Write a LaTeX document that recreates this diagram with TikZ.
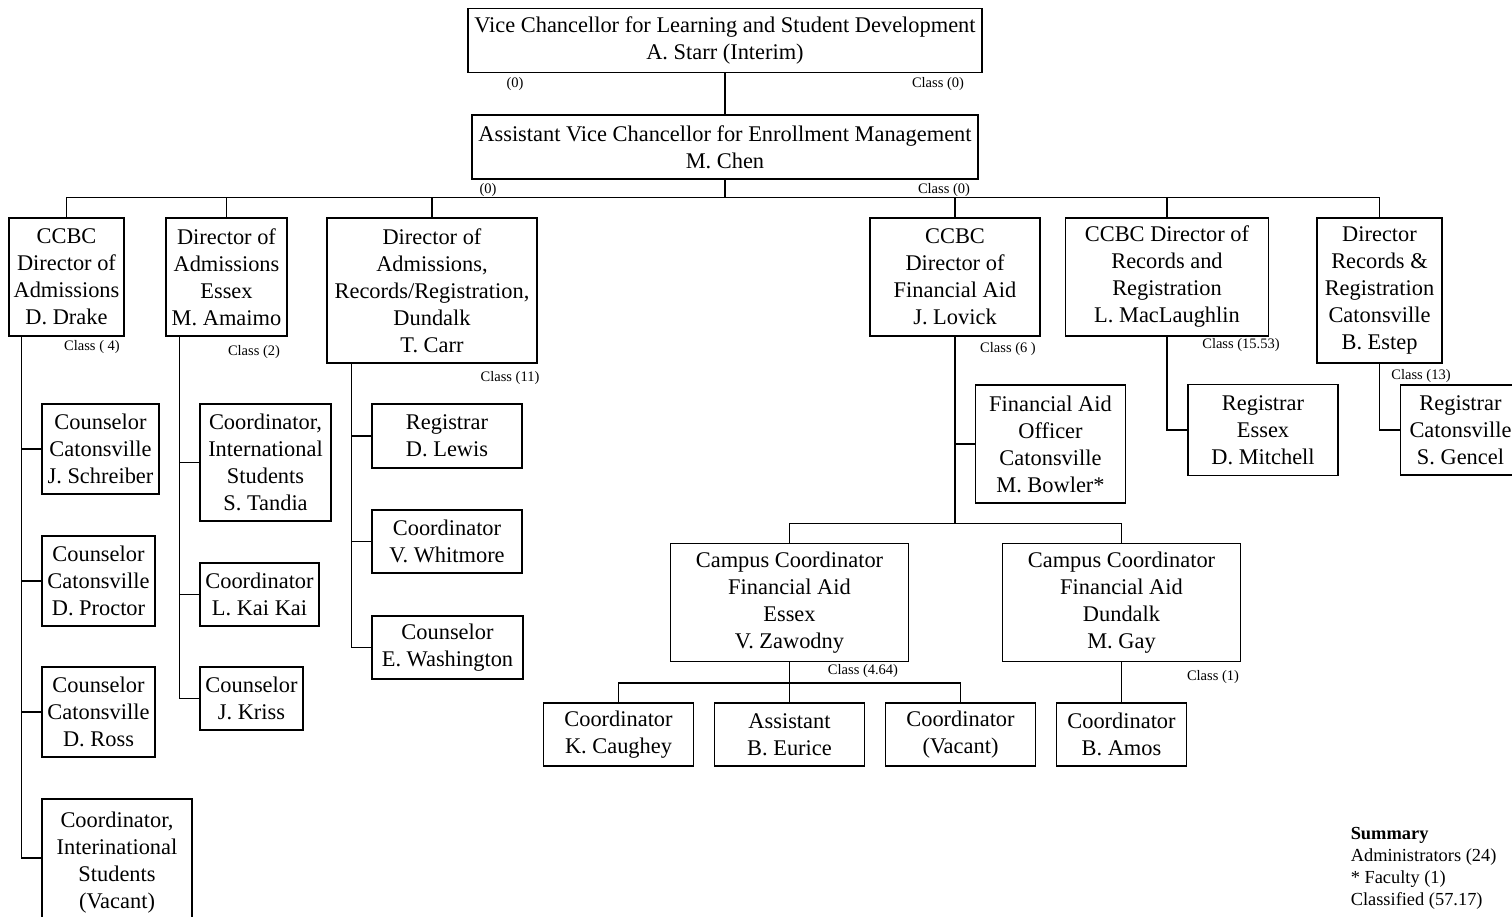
\documentclass[tikz,border=0pt]{standalone}
\usepackage{fontspec}
\setmainfont{Liberation Serif}
\usepackage{tikz}
\tikzset{office/.style={draw,align=center,inner sep=0pt,font=\fontsize{22.4}{27}\selectfont},
         classlbl/.style={inner sep=0pt,font=\fontsize{14.5}{16}\selectfont},
         sumline/.style={inner sep=0pt,anchor=base west,font=\fontsize{18.4}{22}\selectfont}}

\begin{document}
\begin{tikzpicture}[x=1pt,y=-1pt,line width=1.5pt]
                      \path[use as bounding box,clip](0,0)rectangle(1512,917);
                      % top of the chart
                      \node[office,minimum width=514pt,minimum height=64pt](starr)at(725,40.5){Vice Chancellor for Learning and Student Development\\A. Starr (Interim)};
                      \node[office,minimum width=506pt,minimum height=64pt](chen)at(725,147){Assistant Vice Chancellor for Enrollment Management\\M. Chen};
                      \node[classlbl](s0)at(515,84.5){(0)};
                      \node[classlbl](s1)at(938,84.5){Class (0)};
                      \node[classlbl](c0)at(488,190){(0)};
                      \node[classlbl](c1)at(944,190){Class (0)};
                      % directors
                      \node[office,minimum width=115pt,minimum height=118pt](drake)at(66.5,277){CCBC\\Director of\\Admissions\\D. Drake};
                      \node[office,minimum width=121pt,minimum height=118pt](amaimo)at(226.5,277){Director of\\Admissions\\Essex\\M. Amaimo};
                      \node[office,minimum width=210pt,minimum height=145pt](carr)at(432,290.5){Director of\\Admissions,\\Records/Registration,\\Dundalk\\T. Carr};
                      \node[office,minimum width=170pt,minimum height=118pt](lovick)at(955,277){CCBC\\Director of\\Financial Aid\\J. Lovick};
                      \node[office,minimum width=203pt,minimum height=118pt](mac)at(1167,277){CCBC Director of\\Records and\\Registration\\L. MacLaughlin};
                      \node[office,minimum width=125pt,minimum height=145pt](estep)at(1379.5,290.5){Director\\Records \&\\Registration\\Catonsville\\B. Estep};
                      \node[classlbl](cdrake)at(92,347){Class ( 4)};
                      \node[classlbl](camaimo)at(254,352){Class (2)};
                      \node[classlbl](ccarr)at(510,378){Class (11)};
                      \node[classlbl](clovick)at(1008,349){Class (6 )};
                      \node[classlbl](cmac)at(1241,345){Class (15.53)};
                      \node[classlbl](cestep)at(1421,376){Class (13)};
                      % staff under the directors
                      \node[office,minimum width=117pt,minimum height=90pt](schreiber)at(100.5,449){Counselor\\Catonsville\\J. Schreiber};
                      \node[office,minimum width=113pt,minimum height=90pt](proctor)at(98.5,581){Counselor\\Catonsville\\D. Proctor};
                      \node[office,minimum width=113pt,minimum height=90pt](ross)at(98.5,712){Counselor\\Catonsville\\D. Ross};
                      \node[office,minimum width=150pt,minimum height=128pt](intl)at(117,863){Coordinator,\\Interinational\\Students\\(Vacant)};
                      \node[office,minimum width=131pt,minimum height=117pt](tandia)at(265.5,462.5){Coordinator,\\International\\Students\\S. Tandia};
                      \node[office,minimum width=119pt,minimum height=63pt](kaikai)at(259.5,594.5){Coordinator\\L. Kai Kai};
                      \node[office,minimum width=103pt,minimum height=63pt](kriss)at(251.5,698.5){Counselor\\J. Kriss};
                      \node[office,minimum width=150pt,minimum height=64pt](lewis)at(447,436){Registrar\\D. Lewis};
                      \node[office,minimum width=150pt,minimum height=63pt](whitmore)at(447,541.5){Coordinator\\V. Whitmore};
                      \node[office,minimum width=151pt,minimum height=63pt](washington)at(447.5,647.5){Counselor\\E. Washington};
                      \node[office,minimum width=150pt,minimum height=118pt](bowler)at(1050.5,444){Financial Aid\\Officer\\Catonsville\\M. Bowler*};
                      \node[office,minimum width=150pt,minimum height=91pt](essex)at(1263,430){Registrar\\Essex\\D. Mitchell};
                      \node[office,minimum width=120pt,minimum height=90pt](gencel)at(1460.5,430){Registrar\\Catonsville\\S. Gencel};
                      % financial aid campuses
                      \node[office,minimum width=238pt,minimum height=118pt](zawodny)at(789.5,602.5){Campus Coordinator\\Financial Aid\\Essex\\V. Zawodny};
                      \node[office,minimum width=238pt,minimum height=118pt](gay)at(1121.5,602.5){Campus Coordinator\\Financial Aid\\Dundalk\\M. Gay};
                      \node[classlbl](czawodny)at(863,671){Class (4.64)};
                      \node[classlbl](cgay)at(1213,677){Class (1)};
                      \node[office,minimum width=150pt,minimum height=63pt](caughey)at(618.5,734.5){Coordinator\\K. Caughey};
                      \node[office,minimum width=150pt,minimum height=63pt](eurice)at(789.5,734.5){Assistant\\B. Eurice};
                      \node[office,minimum width=150pt,minimum height=63pt](vacantc)at(960.5,734.5){Coordinator\\(Vacant)};
                      \node[office,minimum width=130pt,minimum height=63pt](amos)at(1121.5,734.5){Coordinator\\B. Amos};
                      % lines
                      \draw(starr.south)--(chen.north);
                      \foreach \n in {drake,amaimo,carr,lovick,mac,estep} \draw(chen.south)--++(0,18)-|(\n.north);
                      \foreach \n in {schreiber,proctor,ross} \draw([xshift=13pt]drake.south west)|-(\n.west);
                      \draw([xshift=13pt]drake.south west)|-([yshift=5pt]intl.west);
                      \foreach \n in {tandia,kaikai,kriss} \draw([xshift=14pt]amaimo.south west)|-(\n.west);
                      \foreach \n in {lewis,whitmore,washington} \draw([xshift=25pt]carr.south west)|-(\n.west);
                      \draw(lovick.south)|-(bowler.west);
                      \foreach \n in {zawodny,gay} \draw(lovick.south)--++(0,186.5)-|(\n.north);
                      \draw(mac.south)|-(essex.west);
                      \draw(estep.south)|-(gencel.west);
                      \foreach \n in {caughey,eurice,vacantc} \draw(zawodny.south)--++(0,20.5)-|(\n.north);
                      \draw(gay.south)--(amos.north);
                      % summary
                      \foreach \t [count=\i] in {\textbf{Summary},Administrators (24),* Faculty (1),Classified (57.17)}
                        \node[sumline](sum\i)at(1350,817+22*\i){\t};
                  \end{tikzpicture}
\end{document}
